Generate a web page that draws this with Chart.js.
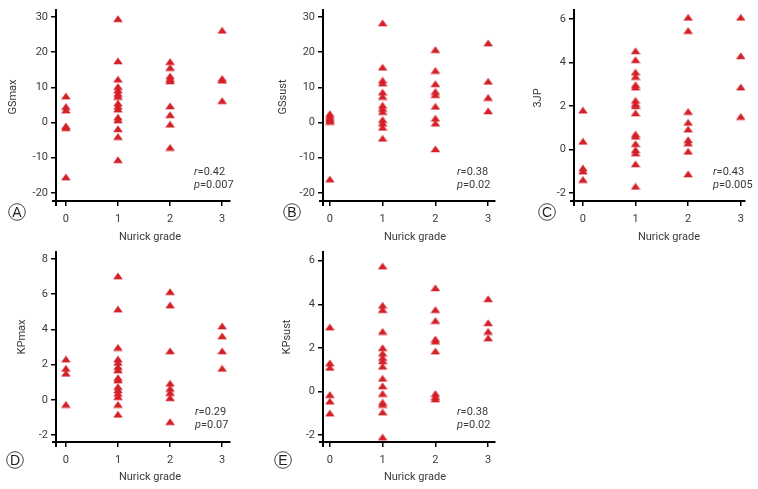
<!DOCTYPE html>
<html>
<head>
<meta charset="utf-8">
<script src="https://cdn.jsdelivr.net/npm/chart.js@4.4.1/dist/chart.umd.min.js"></script>
<style>
  html, body { margin: 0; padding: 0; background: #fff; }
  #wrap { position: relative; width: 758px; height: 489px; }
  #wrap canvas { position: absolute; left: 0; top: 0; }
</style>
</head>
<body>
<div id="wrap">
  <canvas id="chartA" width="758" height="489"></canvas>
  <canvas id="chartB" width="758" height="489"></canvas>
  <canvas id="chartC" width="758" height="489"></canvas>
  <canvas id="chartD" width="758" height="489"></canvas>
  <canvas id="chartE" width="758" height="489"></canvas>
</div>
<script>
// Nurick grade categories (x axis)
const grades = [0, 1, 2, 3];

// values per grade
const gsmax = [
  [7.5, 4.5, 3.5, -1, -1.5, -15.5],
  [29.5, 17.5, 12.3, 10.2, 9.2, 8.2, 7.4, 5.5, 4.6, 3.8, 1.5, 0.7, -1.8, -4.0, -10.6],
  [17.3, 15.6, 13.2, 12.4, 11.8, 4.7, 2.2, -0.5, -7.1],
  [26.2, 12.5, 12.0, 6.2]
];
const gssust = [
  [2.5, 1.8, 1.2, 0.8, 0.3, -16.1],
  [28.3, 15.7, 12.0, 11.2, 8.6, 7.4, 4.9, 4.0, 3.1, 0.8, -0.2, -1.4, -4.5],
  [20.7, 14.8, 11.0, 8.8, 7.9, 4.6, 1.2, -0.2, -7.5],
  [22.6, 11.7, 7.1, 3.3]
];
const jp3 = [
  [1.8, 0.37, -0.86, -1.0, -1.39],
  [4.53, 4.12, 3.55, 3.35, 2.97, 2.86, 2.25, 2.1, 2.0, 1.67, 0.7, 0.6, 0.26, -0.02, -0.17, -0.67, -1.7],
  [6.07, 5.46, 1.74, 1.24, 0.93, 0.44, 0.29, -0.09, -1.13],
  [6.07, 4.3, 2.86, 1.51]
];
const kpmax = [
  [2.31, 1.78, 1.5, -0.27],
  [7.03, 5.15, 2.97, 2.31, 2.12, 1.88, 1.69, 1.25, 1.12, 0.74, 0.55, 0.36, 0.17, -0.27, -0.83],
  [6.14, 5.38, 2.77, 0.93, 0.64, 0.4, 0.11, -1.25],
  [4.19, 3.62, 2.77, 1.78]
];
const kpsust = [
  [2.95, 1.3, 1.1, -0.15, -0.45, -1.0],
  [5.75, 3.95, 3.75, 2.75, 2.0, 1.75, 1.55, 1.4, 1.15, 0.6, 0.25, -0.1, -0.5, -0.6, -0.95, -2.1],
  [4.75, 3.75, 3.25, 2.4, 2.3, 1.85, -0.1, -0.25, -0.35],
  [4.25, 3.15, 2.75, 2.45]
];

// tick labels
const gsTicks = [-20, -10, 0, 10, 20, 30];
const jpTicks = [-2, 0, 2, 4, 6];
const kpmaxTicks = [-2, 0, 2, 4, 6, 8];
const kpsustTicks = [-2, 0, 2, 4, 6];

const RED = '#d42129';
const INK = '#3a3a3a';
const FONT = "Roboto, 'Liberation Sans', sans-serif";

// triangle marker
const tri = document.createElement('canvas');
tri.width = 10; tri.height = 8;
(() => {
  const c = tri.getContext('2d');
  c.fillStyle = RED;
  c.beginPath();
  c.moveTo(5, 0.5);
  c.lineTo(9.8, 7.3);
  c.lineTo(0.2, 7.3);
  c.closePath();
  c.fill();
})();

// titles, stats and panel letters
const panelText = {
  id: 'panelText',
  afterDraw(chart, args, o) {
    const ctx = chart.ctx;
    const a = chart.chartArea;
    ctx.save();
    // little axis stubs past the corner
    ctx.strokeStyle = '#000';
    ctx.lineWidth = 2;
    ctx.beginPath();
    ctx.moveTo(a.left - 4, a.bottom);
    ctx.lineTo(a.left, a.bottom);
    ctx.moveTo(a.left, a.bottom);
    ctx.lineTo(a.left, a.bottom + 5);
    ctx.stroke();

    ctx.fillStyle = INK;
    ctx.font = '11px ' + FONT;
    ctx.textAlign = 'center';
    ctx.textBaseline = 'middle';
    ctx.fillText('Nurick grade', o.xx, o.xy);

    ctx.save();
    ctx.translate(o.yx, o.yy);
    ctx.rotate(-Math.PI / 2);
    ctx.fillText(o.yTitle, 0, 0);
    ctx.restore();

    // r and p
    ctx.textAlign = 'left';
    const lines = [['r', '=' + o.r], ['p', '=' + o.p]];
    lines.forEach((ln, i) => {
      const y = o.sy + i * 13;
      ctx.font = 'italic 11px ' + FONT;
      ctx.fillText(ln[0], o.sx, y);
      const w = ctx.measureText(ln[0]).width;
      ctx.font = '11px ' + FONT;
      ctx.fillText(ln[1], o.sx + w, y);
    });

    // circled letter
    ctx.strokeStyle = '#444';
    ctx.lineWidth = 1;
    ctx.beginPath();
    ctx.arc(o.lx, o.ly, 8.3, 0, Math.PI * 2);
    ctx.stroke();
    ctx.fillStyle = '#222';
    ctx.textAlign = 'center';
    ctx.font = '14px "Liberation Sans", Arial, sans-serif';
    ctx.fillText(o.letter, o.lx, o.ly + 1);
    ctx.restore();
  }
};

function makePanel(id, values, yTicks, p) {
  const pts = [];
  grades.forEach((g, i) => values[i].forEach(v => pts.push({ x: g, y: v })));
  const W = 758, H = 489, YW = 40, XH = 30;
  new Chart(document.getElementById(id), {
    type: 'scatter',
    data: {
      datasets: [{
        data: pts,
        pointStyle: tri,
        pointRadius: 5,
        backgroundColor: RED,
        borderColor: RED
      }]
    },
    options: {
      responsive: false,
      animation: false,
      layout: {
        padding: { left: p.left - YW, right: W - p.right, top: p.top, bottom: H - p.bottom - XH }
      },
      plugins: {
        legend: { display: false },
        tooltip: { enabled: false },
        panelText: p.text
      },
      scales: {
        x: {
          type: 'linear',
          min: p.xmin, max: p.xmax,
          afterFit: s => { s.height = XH; },
          afterBuildTicks: s => { s.ticks = grades.map(v => ({ value: v })); },
          border: { display: true, color: '#000', width: 2 },
          grid: { display: true, drawOnChartArea: false, drawTicks: true, tickLength: 5, color: '#000', lineWidth: 1.5 },
          ticks: { color: INK, padding: 7, maxRotation: 0, font: { family: FONT, size: 11 } }
        },
        y: {
          type: 'linear',
          min: p.ymin, max: p.ymax,
          afterFit: s => { s.width = YW; },
          afterBuildTicks: s => { s.ticks = yTicks.map(v => ({ value: v })); },
          border: { display: true, color: '#000', width: 2 },
          grid: { display: true, drawOnChartArea: false, drawTicks: true, tickLength: 5, color: '#000', lineWidth: 1.5 },
          ticks: { color: INK, padding: 3, font: { family: FONT, size: 11 } }
        }
      }
    },
    plugins: [panelText]
  });
}

makePanel('chartA', gsmax, gsTicks, {
  left: 56, right: 230, top: 10, bottom: 201,
  xmin: -0.19, xmax: 3.15, ymin: -22.3, ymax: 32,
  text: { yTitle: 'GSmax', yx: 13, yy: 97, xx: 150, xy: 237, letter: 'A', lx: 17, ly: 212, r: '0.42', p: '0.007', sx: 194, sy: 172 }
});
makePanel('chartB', gssust, gsTicks, {
  left: 323, right: 495, top: 10, bottom: 201,
  xmin: -0.13, xmax: 3.13, ymin: -22.3, ymax: 32,
  text: { yTitle: 'GSsust', yx: 283, yy: 97, xx: 415, xy: 237, letter: 'B', lx: 292, ly: 212, r: '0.38', p: '0.02', sx: 457, sy: 172 }
});
makePanel('chartC', jp3, jpTicks, {
  left: 574, right: 745, top: 10, bottom: 201,
  xmin: -0.17, xmax: 3.08, ymin: -2.37, ymax: 6.41,
  text: { yTitle: '3JP', yx: 538, yy: 98, xx: 669, xy: 237, letter: 'C', lx: 547, ly: 212, r: '0.43', p: '0.005', sx: 713, sy: 172 }
});
makePanel('chartD', kpmax, kpmaxTicks, {
  left: 56, right: 230, top: 252, bottom: 442,
  xmin: -0.19, xmax: 3.15, ymin: -2.4, ymax: 8.4,
  text: { yTitle: 'KPmax', yx: 22, yy: 337, xx: 150, xy: 477, letter: 'D', lx: 15, ly: 460, r: '0.29', p: '0.07', sx: 195, sy: 412 }
});
makePanel('chartE', kpsust, kpsustTicks, {
  left: 323, right: 495, top: 252, bottom: 442,
  xmin: -0.13, xmax: 3.13, ymin: -2.32, ymax: 6.4,
  text: { yTitle: 'KPsust', yx: 287, yy: 337, xx: 415, xy: 477, letter: 'E', lx: 283, ly: 460, r: '0.38', p: '0.02', sx: 457, sy: 412 }
});
</script>
</body>
</html>
